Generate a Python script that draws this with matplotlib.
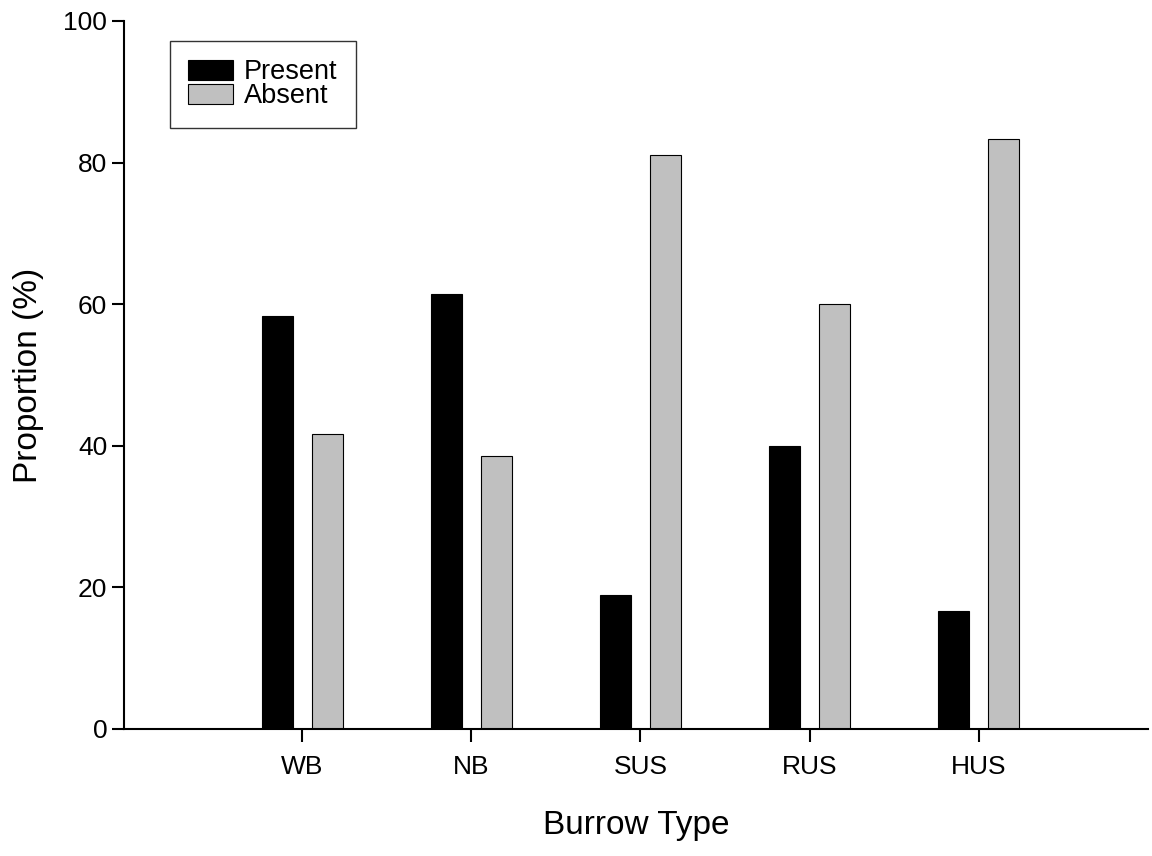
import matplotlib
matplotlib.use("Agg")
import matplotlib.pyplot as plt
import numpy as np

categories = ["WB", "NB", "SUS", "RUS", "HUS"]
present = [58.3, 61.5, 18.9, 40.0, 16.7]
absent = [41.7, 38.5, 81.1, 60.0, 83.3]
yticks = [0, 20, 40, 60, 80, 100]

plt.rcParams['font.family'] = ['Liberation Sans', 'DejaVu Sans']

fig = plt.figure(figsize=(11.52, 8.56), dpi=100)
ax = fig.add_axes([124/1152, 1-729/856, (1148-124)/1152, (729-21)/856])

x = np.arange(len(categories))
w = 0.183
off = 0.148
ax.bar(x - off, present, width=w, color="black", edgecolor="black", linewidth=0.8, label="Present")
ax.bar(x + off, absent, width=w, color="#c0c0c0", edgecolor="black", linewidth=0.8, label="Absent")

ax.set_xlim(-1.053, 5.0)
ax.set_ylim(0, 100)
ax.set_xticks(x)
ax.set_xticklabels(categories)
ax.set_yticks(yticks)
ax.tick_params(axis='both', direction='out', length=9, width=1.5, labelsize=19)
ax.tick_params(axis='y', pad=3)
ax.tick_params(axis='x', pad=10)
for s in ["top", "right"]:
    ax.spines[s].set_visible(False)
for s in ["left", "bottom"]:
    ax.spines[s].set_linewidth(1.5)

ax.set_xlabel("Burrow Type", fontsize=24, labelpad=22)
ax.set_ylabel("Proportion (%)", fontsize=24, labelpad=14)

leg = ax.legend(loc="upper left", bbox_to_anchor=((170-124)/1024, 1-(41-21)/708),
                fontsize=19.5, frameon=True, fancybox=False, edgecolor="black",
                handlelength=1.65, handleheight=0.78, labelspacing=-0.08,
                borderpad=0.68, handletextpad=0.4, borderaxespad=0)
leg.get_frame().set_linewidth(1.0)

fig.savefig("out.png", dpi=100)
